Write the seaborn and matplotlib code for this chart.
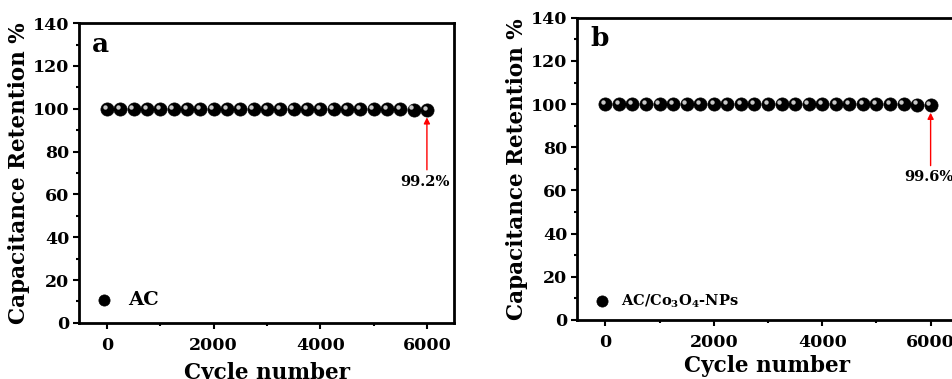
import numpy as np
import pandas as pd
import matplotlib
matplotlib.use("Agg")
import matplotlib.pyplot as plt
import matplotlib.transforms as mtrans
from matplotlib.ticker import MultipleLocator
import seaborn as sns

cycles = [0, 250, 500, 750, 1000, 1250, 1500, 1750, 2000, 2250, 2500, 2750, 3000,
          3250, 3500, 3750, 4000, 4250, 4500, 4750, 5000, 5250, 5500, 5750, 6000]
retention_ac = [100.0, 100.0, 100.0, 100.0, 100.0, 100.0, 100.0, 100.0, 100.0, 100.0,
                100.0, 100.0, 100.0, 100.0, 100.0, 100.0, 100.0, 100.0, 100.0, 100.0,
                100.0, 99.8, 99.7, 99.6, 99.2]
retention_co = [100.0, 100.0, 100.0, 100.0, 100.0, 100.0, 100.0, 100.0, 100.0, 100.0,
                100.0, 100.0, 100.0, 100.0, 100.0, 100.0, 100.0, 100.0, 100.0, 100.0,
                100.0, 100.0, 99.9, 99.8, 99.6]
panel_labels = ["a", "b"]
legend_labels = ["AC", r"AC/Co$_3$O$_4$-NPs"]
final_labels = ["99.2%", "99.6%"]
xticks = [0, 2000, 4000, 6000]
yticks = [0, 20, 40, 60, 80, 100, 120, 140]

sns.set_style("ticks")
plt.rcParams["font.family"] = ["DejaVu Serif"]
plt.rcParams["font.weight"] = "bold"
plt.rcParams["text.color"] = "black"
plt.rcParams["axes.labelcolor"] = "black"
plt.rcParams["xtick.color"] = "black"
plt.rcParams["ytick.color"] = "black"
plt.rcParams["mathtext.fontset"] = "custom"
plt.rcParams["mathtext.rm"] = "DejaVu Serif:bold"
plt.rcParams["mathtext.it"] = "DejaVu Serif:bold"
plt.rcParams["mathtext.bf"] = "DejaVu Serif:bold"

fig = plt.figure(figsize=(9.52, 3.79), dpi=100)
ax_a = fig.add_axes([0.083, 0.148, 0.394, 0.791])
ax_b = fig.add_axes([0.606, 0.156, 0.400, 0.797])

datasets = [retention_ac, retention_co]
for i, (ax, vals) in enumerate(zip([ax_a, ax_b], datasets)):
    df = pd.DataFrame({"Cycle": cycles, "Retention": vals})
    sns.scatterplot(data=df, x="Cycle", y="Retention", ax=ax, color="black",
                    s=90, edgecolor="black", linewidth=0.5, label=legend_labels[i],
                    zorder=3)
    # sphere highlight
    off = mtrans.ScaledTranslation(-1.6 / 72, 1.6 / 72, fig.dpi_scale_trans)
    ax.scatter(df["Cycle"], df["Retention"], s=10, color="#c8c8c8", linewidth=0,
               transform=ax.transData + off, zorder=5)
    ax.set_xlim(-525, 6510 if i == 0 else 6500)
    ax.set_ylim(0, 140)
    ax.set_xticks(xticks)
    ax.set_yticks(yticks)
    ax.xaxis.set_minor_locator(MultipleLocator(1000))
    ax.yaxis.set_minor_locator(MultipleLocator(10))
    ax.tick_params(axis="y", which="major", direction="out", length=4, width=1.5,
                   labelsize=12.5, pad=3)
    ax.tick_params(axis="x", which="major", direction="out", length=4, width=1.5,
                   labelsize=12.5, pad=6)
    ax.tick_params(axis="both", which="minor", direction="out", length=2.5, width=1.5)
    for lab in ax.get_xticklabels() + ax.get_yticklabels():
        lab.set_fontweight("bold")
    for sp in ax.spines.values():
        sp.set_linewidth(2)
        sp.set_color("black")
    ax.set_xlabel("Cycle number", fontsize=15.5, fontweight="bold",
                  labelpad=6 if i == 0 else 3)
    ax.set_ylabel("Capacitance Retention %", fontsize=15.5, fontweight="bold", labelpad=2)
    ax.text(0.035, 0.93, panel_labels[i], transform=ax.transAxes, fontsize=19,
            fontweight="bold", va="center", ha="left")
    ax.annotate("", xy=(6000, 96), xytext=(6000, 71.5),
                arrowprops=dict(arrowstyle="-|>", color="red", lw=1.0,
                                mutation_scale=9, shrinkA=0, shrinkB=0))
    ax.text(5960, 66, final_labels[i], fontsize=10.5, fontweight="bold",
            ha="center", va="center")
    if i == 0:
        leg = ax.legend(loc="lower left", frameon=False, fontsize=14,
                        handletextpad=0.2, borderaxespad=0.0, markerscale=0.85,
                        bbox_to_anchor=(-0.005, 0.02))
    else:
        leg = ax.legend(loc="lower left", frameon=False, fontsize=10.5,
                        handletextpad=0.3, borderaxespad=0.3, markerscale=0.85)
    for t in leg.get_texts():
        t.set_fontweight("bold")

fig.savefig("out.png", dpi=100)
